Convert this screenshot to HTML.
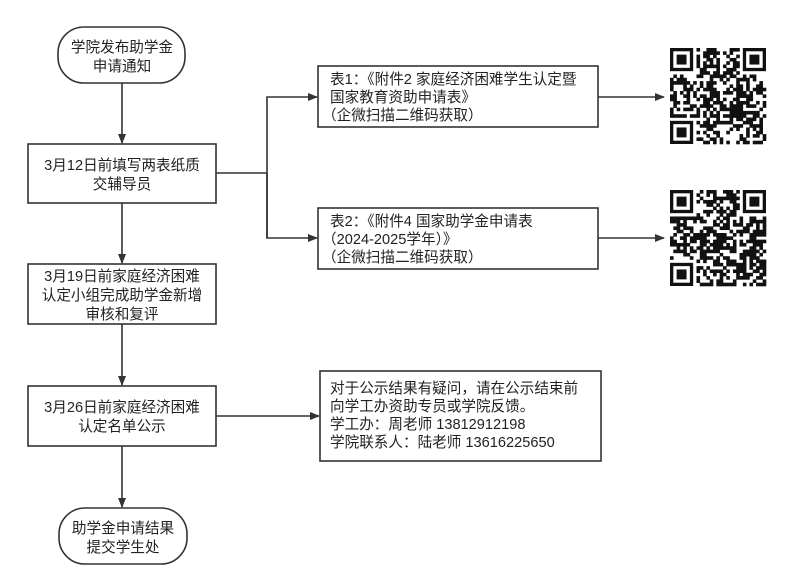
<!DOCTYPE html>
<html><head><meta charset="utf-8">
<style>
body{margin:0;background:#fff;}
svg{display:block}
text{font-family:"Liberation Sans","Noto Sans CJK SC",sans-serif;font-size:14.6px;fill:#222;}
</style></head><body>
<svg id="s" width="800" height="588" viewBox="0 0 800 588" xmlns="http://www.w3.org/2000/svg">
<defs><marker id="a" markerWidth="10" markerHeight="8" refX="9" refY="4" orient="auto" markerUnits="userSpaceOnUse"><path d="M0,0 L10,4 L0,8 z" fill="#333"/></marker></defs>
<g stroke="#333" stroke-width="1.6" fill="none">
<rect x="58" y="27" width="127" height="56" rx="26"/>
<rect x="28" y="144" width="188" height="59"/>
<rect x="28" y="264" width="188" height="60"/>
<rect x="28" y="386" width="188" height="60"/>
<rect x="59" y="508" width="128" height="56" rx="26"/>
<rect x="318" y="66" width="280" height="61"/>
<rect x="318" y="208" width="280" height="61"/>
<rect x="320" y="371" width="281" height="90"/>
<line x1="122" y1="83" x2="122" y2="143" marker-end="url(#a)"/>
<line x1="122" y1="203" x2="122" y2="263" marker-end="url(#a)"/>
<line x1="122" y1="324" x2="122" y2="385" marker-end="url(#a)"/>
<line x1="122" y1="446" x2="122" y2="507" marker-end="url(#a)"/>
<polyline points="216,173 267,173"/>
<polyline points="267,238 267,97 317,97" marker-end="url(#a)"/>
<polyline points="267,173 267,238 317,238" marker-end="url(#a)"/>
<line x1="598" y1="97" x2="664" y2="97" marker-end="url(#a)"/>
<line x1="598" y1="238" x2="664" y2="238" marker-end="url(#a)"/>
<line x1="216" y1="416" x2="319" y2="416" marker-end="url(#a)"/>
</g>
<g text-anchor="middle">
<text x="122" y="52">学院发布助学金</text><text x="122" y="71">申请通知</text>
<text x="122" y="170">3月12日前填写两表纸质</text><text x="122" y="189">交辅导员</text>
<text x="122" y="281">3月19日前家庭经济困难</text><text x="122" y="300">认定小组完成助学金新增</text><text x="122" y="319">审核和复评</text>
<text x="122" y="412">3月26日前家庭经济困难</text><text x="122" y="431">认定名单公示</text>
<text x="123" y="533">助学金申请结果</text><text x="123" y="552">提交学生处</text>
</g>
<text x="330" y="84">表1：《附件2 家庭经济困难学生认定暨</text>
<text x="330" y="102">国家教育资助申请表》</text>
<text x="322" y="120">（企微扫描二维码获取）</text>
<text x="330" y="226">表2：《附件4 国家助学金申请表</text>
<text x="322" y="244">（2024-2025学年）》</text>
<text x="322" y="262">（企微扫描二维码获取）</text>
<text x="330" y="393">对于公示结果有疑问，请在公示结束前</text>
<text x="330" y="411">向学工办资助专员或学院反馈。</text>
<text x="330" y="429">学工办：周老师 13812912198</text>
<text x="330" y="447">学院联系人：陆老师 13616225650</text>
<g id="q1"></g><g id="q2"></g>
</svg>
<script>
(function(){
var ns="http://www.w3.org/2000/svg";
function qr(id,x0,y0,seed){
 var g=document.getElementById(id),N=29,m=96/N,s=seed;
 function r(){s=(s*16807)%2147483647;return s/2147483647;}
 function R(x,y,w,h,c){var e=document.createElementNS(ns,"rect");e.setAttribute("x",x);e.setAttribute("y",y);e.setAttribute("width",w);e.setAttribute("height",h);e.setAttribute("fill",c);g.appendChild(e);}
 function fin(i,j){return (i<8&&j<8)||(i<8&&j>=N-8)||(i>=N-8&&j<8);}
 for(var i=0;i<N;i++)for(var j=0;j<N;j++){if(fin(i,j))continue;if(r()<0.52)R(x0+j*m,y0+i*m,m+0.3,m+0.3,"#111");}
 [[0,0],[0,N-7],[N-7,0]].forEach(function(p){var x=x0+p[1]*m,y=y0+p[0]*m;R(x,y,7*m,7*m,"#111");R(x+m,y+m,5*m,5*m,"#fff");R(x+2*m,y+2*m,3*m,3*m,"#111");});
}
qr("q1",670,48,12345);qr("q2",670,190,67891);
})();
</script>
</body></html>
